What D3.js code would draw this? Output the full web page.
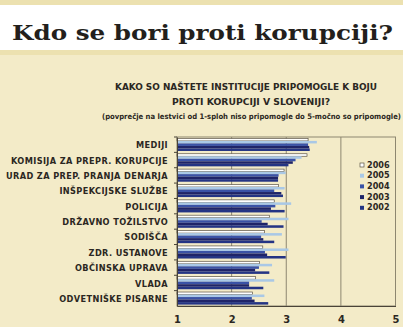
<!DOCTYPE html>
<html>
<head>
<meta charset="utf-8">
<script src="https://cdn.jsdelivr.net/npm/d3@7/dist/d3.min.js"></script>
<style>
  body { margin: 0; background: #f3ebc8; }
  svg { display: block; }
  .cond { font-family: 'DejaVu Sans Condensed', 'DejaVu Sans', sans-serif; font-stretch: condensed; font-weight: bold; fill: #2b2722; }
</style>
</head>
<body>
<div id="chart"></div>
<script>
// categories, top to bottom
const categories = [
  'MEDIJI',
  'KOMISIJA ZA PREPR. KORUPCIJE',
  'URAD ZA PREP. PRANJA DENARJA',
  'INŠPEKCIJSKE SLUŽBE',
  'POLICIJA',
  'DRŽAVNO TOŽILSTVO',
  'SODIŠČA',
  'ZDR. USTANOVE',
  'OBČINSKA UPRAVA',
  'VLADA',
  'ODVETNIŠKE PISARNE'
];

const years = ['2006', '2005', '2004', '2003', '2002'];

// average score per year, same order as categories
const v2006 = [3.40, 3.38, 2.96, 2.86, 2.78, 2.69, 2.60, 2.57, 2.51, 2.44, 2.38];
const v2005 = [3.56, 3.28, 2.99, 2.97, 3.09, 3.04, 2.92, 3.04, 2.74, 2.78, 2.60];
const v2004 = [3.40, 3.17, 2.86, 2.78, 2.80, 2.55, 2.54, 2.61, 2.50, 2.32, 2.37];
const v2003 = [3.42, 3.12, 2.85, 2.91, 2.72, 2.66, 2.58, 2.65, 2.43, 2.32, 2.42];
const v2002 = [3.43, 3.04, 2.85, 2.94, 2.97, 2.95, 2.78, 2.99, 2.69, 2.58, 2.67];

const xTicks = [1, 2, 3, 4, 5];

const title = 'Kdo se bori proti korupciji?';
const subtitle1 = 'KAKO SO NAŠTETE INSTITUCIJE PRIPOMOGLE K BOJU';
const subtitle2 = 'PROTI KORUPCIJI V SLOVENIJI?';
const subtitle3 = '(povprečje na lestvici od 1-sploh niso pripomogle do 5-močno so pripomogle)';

const seriesValues = { '2006': v2006, '2005': v2005, '2004': v2004, '2003': v2003, '2002': v2002 };
const colors = { '2006': '#ffffff', '2005': '#a9c8e6', '2004': '#3a52a6', '2003': '#1f2468', '2002': '#243484' };

const w = 403;
const h = 327;

const svg = d3.select('#chart').append('svg')
    .attr('width', w)
    .attr('height', h);

// background bands
svg.append('rect').attr('x', 0).attr('y', 0).attr('width', w).attr('height', h).attr('fill', '#f3ebc8');
svg.append('rect').attr('x', 0).attr('y', 0).attr('width', w).attr('height', 5).attr('fill', '#ece1b0');
svg.append('rect').attr('x', 0).attr('y', 5).attr('width', w).attr('height', 45).attr('fill', '#ffffff');
svg.append('rect').attr('x', 0).attr('y', 50).attr('width', w).attr('height', 5).attr('fill', '#ece1b0');

// title
svg.append('text')
    .attr('x', 12).attr('y', 40)
    .attr('textLength', 381).attr('lengthAdjust', 'spacingAndGlyphs')
    .style('font-family', "'DejaVu Serif', serif")
    .style('font-weight', 'bold')
    .style('font-size', '21px')
    .style('fill', '#231f1c')
    .text(title);

// subtitles
svg.append('text').attr('class', 'cond')
    .attr('x', 115).attr('y', 90)
    .attr('textLength', 262).attr('lengthAdjust', 'spacingAndGlyphs')
    .style('font-size', '9.5px')
    .text(subtitle1);
svg.append('text').attr('class', 'cond')
    .attr('x', 172).attr('y', 105)
    .attr('textLength', 158).attr('lengthAdjust', 'spacingAndGlyphs')
    .style('font-size', '9.5px')
    .text(subtitle2);
svg.append('text').attr('class', 'cond')
    .attr('x', 102).attr('y', 119)
    .attr('textLength', 299).attr('lengthAdjust', 'spacingAndGlyphs')
    .style('font-size', '7.5px')
    .text(subtitle3);

// scales
const plotLeft = 177, plotRight = 395.5, plotTop = 137, plotBottom = 306;

const x = d3.scaleLinear().domain([1, 5]).range([plotLeft, plotRight]);

const y = d3.scaleBand()
    .domain(categories)
    .range([plotTop, plotBottom])
    .paddingInner(0.18)
    .paddingOuter(0.09);

const yInner = d3.scaleBand()
    .domain(years)
    .range([0, y.bandwidth()]);

// frame and grid
svg.append('rect')
    .attr('x', plotLeft).attr('y', plotTop)
    .attr('width', plotRight - plotLeft).attr('height', plotBottom - plotTop)
    .attr('fill', 'none')
    .attr('stroke', '#8d8770')
    .attr('stroke-width', 1);

svg.append('g')
    .selectAll('line')
    .data(xTicks.slice(1, -1))
    .enter()
    .append('line')
    .attr('x1', (d) => x(d)).attr('x2', (d) => x(d))
    .attr('y1', plotTop).attr('y2', plotBottom)
    .attr('stroke', '#8d8770')
    .attr('stroke-width', 1);

// bars
const groups = svg.append('g')
    .selectAll('g')
    .data(categories)
    .enter()
    .append('g')
    .attr('transform', (d) => 'translate(0,' + y(d) + ')');

groups.selectAll('rect')
    .data((d, i) => years.map((yr) => ({ year: yr, value: seriesValues[yr][i] })))
    .enter()
    .append('rect')
    .attr('x', x(1))
    .attr('y', (d) => yInner(d.year))
    .attr('width', (d) => x(d.value) - x(1))
    .attr('height', yInner.bandwidth())
    .attr('fill', (d) => colors[d.year])
    .attr('stroke', (d) => d.year === '2006' ? '#5a5244' : 'none')
    .attr('stroke-width', 0.7);

// y axis
const yAxis = d3.axisLeft(y).tickSize(0).tickPadding(9);
const gy = svg.append('g')
    .attr('transform', 'translate(' + plotLeft + ',0)')
    .call(yAxis);
gy.select('.domain').attr('stroke', '#4a4438');
const yLabels = gy.selectAll('text')
    .attr('class', 'cond')
    .attr('dy', '0.38em')
    .style('font-size', '9.5px')
    .style('letter-spacing', '0.4px');

// squeeze labels so the longest one fits the left margin like in the print
const longest = d3.max(yLabels.nodes(), (n) => n.getComputedTextLength());
const squeeze = 162 / longest;
yLabels.each(function() {
  const len = this.getComputedTextLength();
  d3.select(this)
      .attr('textLength', len * squeeze)
      .attr('lengthAdjust', 'spacingAndGlyphs');
});

// small ticks at category boundaries
svg.append('g')
    .selectAll('line')
    .data(categories)
    .enter()
    .append('line')
    .attr('x1', plotLeft - 3).attr('x2', plotLeft)
    .attr('y1', (d) => y(d) - y.step() * y.paddingInner() / 2)
    .attr('y2', (d) => y(d) - y.step() * y.paddingInner() / 2)
    .attr('stroke', '#4a4438');

// x axis
const xAxis = d3.axisBottom(x).tickValues(xTicks).tickSize(0).tickPadding(9).tickFormat(d3.format('d'));
const gx = svg.append('g')
    .attr('transform', 'translate(0,' + plotBottom + ')')
    .call(xAxis);
gx.select('.domain').attr('stroke', '#4a4438');
gx.selectAll('text')
    .attr('class', 'cond')
    .style('font-size', '11px');

// legend
const legend = svg.append('g')
    .selectAll('g')
    .data(years)
    .enter()
    .append('g')
    .attr('transform', (d, i) => 'translate(360,' + (163 + i * 10.7) + ')');

legend.append('rect')
    .attr('width', 4).attr('height', 4)
    .attr('fill', (d) => colors[d])
    .attr('stroke', (d) => d === '2006' ? '#5a5244' : 'none')
    .attr('stroke-width', 0.7);

legend.append('text')
    .attr('class', 'cond')
    .attr('x', 7).attr('y', 4.5)
    .style('font-size', '9px')
    .text((d) => d);
</script>
</body>
</html>
